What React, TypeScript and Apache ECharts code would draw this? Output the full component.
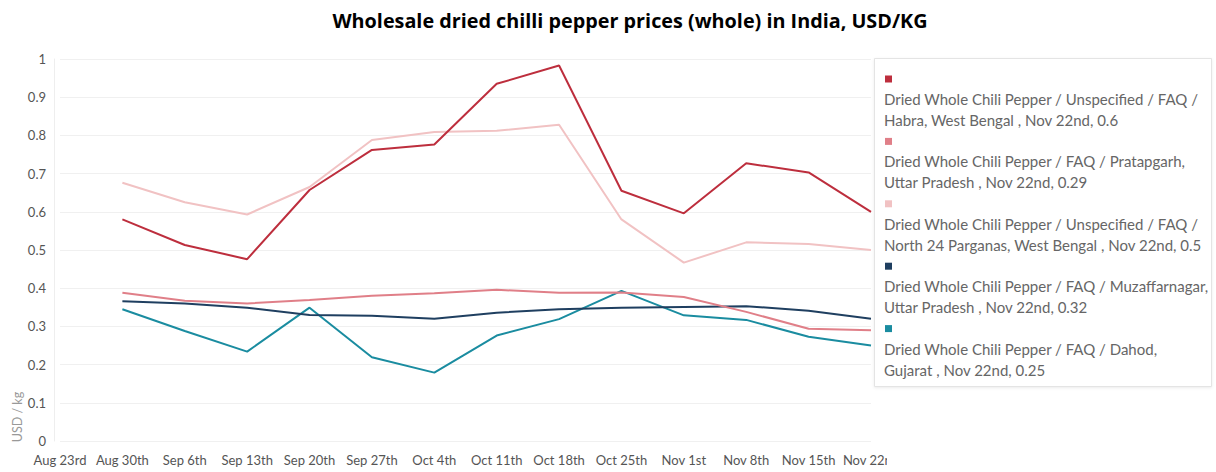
import React, { useEffect, useRef } from "react";
import * as echarts from "echarts";

const titleText = "Wholesale dried chilli pepper prices (whole) in India, USD/KG";
const yAxisName = "USD / kg";

const categories = [
  "Aug 23rd", "Aug 30th", "Sep 6th", "Sep 13th", "Sep 20th", "Sep 27th", "Oct 4th",
  "Oct 11th", "Oct 18th", "Oct 25th", "Nov 1st", "Nov 8th", "Nov 15th", "Nov 22nd",
];

// "\n" marks where the legend text wraps
const seriesNames = [
  "Dried Whole Chili Pepper / Unspecified / FAQ /\nHabra, West Bengal",
  "Dried Whole Chili Pepper / FAQ / Pratapgarh,\nUttar Pradesh",
  "Dried Whole Chili Pepper / Unspecified / FAQ /\nNorth 24 Parganas, West Bengal",
  "Dried Whole Chili Pepper / FAQ / Muzaffarnagar,\nUttar Pradesh",
  "Dried Whole Chili Pepper / FAQ / Dahod,\nGujarat",
];

const habra = [null, 0.58, 0.513, 0.476, 0.657, 0.762, 0.776, 0.935, 0.983, 0.655, 0.596, 0.727, 0.703, 0.6];
const pratapgarh = [null, 0.388, 0.367, 0.36, 0.369, 0.38, 0.387, 0.396, 0.388, 0.389, 0.377, 0.338, 0.294, 0.29];
const north24Parganas = [null, 0.676, 0.625, 0.593, 0.665, 0.788, 0.809, 0.812, 0.828, 0.58, 0.467, 0.52, 0.516, 0.5];
const muzaffarnagar = [null, 0.366, 0.36, 0.349, 0.33, 0.328, 0.32, 0.336, 0.345, 0.349, 0.351, 0.353, 0.341, 0.32];
const dahod = [null, 0.345, 0.288, 0.234, 0.349, 0.219, 0.179, 0.276, 0.319, 0.393, 0.329, 0.317, 0.273, 0.25];

const seriesValues = [habra, pratapgarh, north24Parganas, muzaffarnagar, dahod];
const seriesColors = ["#bd2e3d", "#e07f88", "#f1c2c3", "#1f3f60", "#1a8ca0"];

export default function App() {
  const ref = useRef<HTMLDivElement>(null);

  useEffect(() => {
    document.body.style.margin = "0";
    if (!ref.current) return;
    const chart = echarts.init(ref.current, undefined, { renderer: "svg" });

    const labelFont = "Lato, 'Open Sans', sans-serif";
    const lastIdx = categories.length - 1;

    const legendChildren: any[] = [];
    seriesNames.forEach((name, i) => {
      const top = 75.5 + i * 62.4;
      legendChildren.push({
        type: "rect",
        shape: { x: 885, y: top, width: 7, height: 7 },
        style: { fill: seriesColors[i] },
      });
      const v = seriesValues[i][lastIdx];
      legendChildren.push({
        type: "text",
        x: 884,
        y: top + 13,
        style: {
          text: `${name} , ${categories[lastIdx]}, ${v}`,
          fill: "#666",
          font: `15px ${labelFont}`,
          lineHeight: 21,
          textVerticalAlign: "top",
        },
      });
    });

    chart.setOption({
      animation: false,
      title: {
        text: titleText,
        left: 625,
        top: 5,
        textAlign: "center",
        textStyle: {
          fontFamily: "'Open Sans', sans-serif",
          fontWeight: "bold",
          fontSize: 19.8,
          color: "#000",
        },
      },
      grid: { left: 60, right: 345, top: 59, bottom: 31, containLabel: false },
      xAxis: {
        type: "category",
        data: categories,
        boundaryGap: false,
        axisLine: { show: false },
        axisTick: { show: false },
        axisLabel: { color: "#555", fontSize: 13, fontFamily: labelFont, margin: 12, interval: 0 },
        splitLine: { show: false },
      },
      yAxis: {
        type: "value",
        min: 0,
        max: 1,
        interval: 0.1,
        offset: 6,
        axisLine: { show: true, lineStyle: { color: "#eeeeee" } },
        axisTick: { show: false },
        axisLabel: { color: "#555", fontSize: 13, fontFamily: labelFont, margin: 8 },
        splitLine: { lineStyle: { color: "#f0f0f0" } },
      },
      series: seriesNames.map((name, i) => ({
        name: name.replace("\n", " "),
        type: "line",
        data: seriesValues[i],
        showSymbol: false,
        symbol: "none",
        connectNulls: false,
        lineStyle: { color: seriesColors[i], width: 2 },
        itemStyle: { color: seriesColors[i] },
        z: 10 - i,
      })),
      graphic: [
        {
          type: "text",
          x: 17,
          y: 417,
          rotation: Math.PI / 2,
          style: {
            text: yAxisName,
            fill: "#999",
            font: `12.5px ${labelFont}`,
            textAlign: "center",
            textVerticalAlign: "middle",
          },
        },
        {
          type: "rect",
          z: 100,
          shape: { x: 887, y: 448, width: 20, height: 22 },
          style: { fill: "#fff" },
        },
        {
          type: "group",
          z: 100,
          children: [
            {
              type: "rect",
              shape: { x: 874.5, y: 58.5, width: 337, height: 328 },
              style: {
                fill: "#fff",
                stroke: "#e4e4e4",
                lineWidth: 1,
                shadowColor: "rgba(0,0,0,0.08)",
                shadowBlur: 3,
                shadowOffsetY: 1,
              },
            },
            ...legendChildren,
          ],
        },
      ],
    });

    return () => chart.dispose();
  }, []);

  return <div ref={ref} style={{ width: 1216, height: 472 }} />;
}
